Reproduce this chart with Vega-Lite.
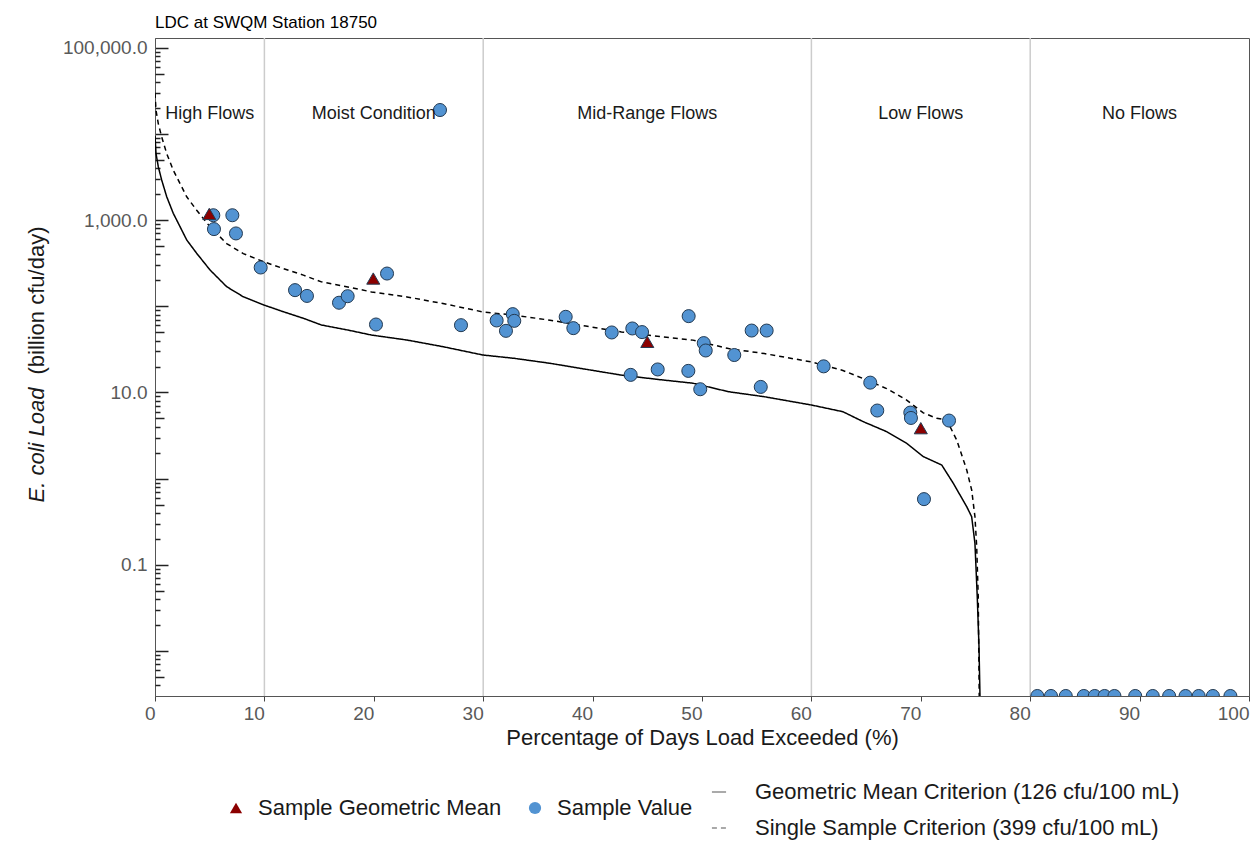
{
  "$schema": "https://vega.github.io/schema/vega-lite/v6.json",
  "autosize": {"type": "none"},
  "width": 1094,
  "height": 658,
  "padding": {"left": 155, "top": 38, "right": 8, "bottom": 160},
  "background": "white",
  "title": {"text": "LDC at SWQM Station 18750", "anchor": "start", "frame": "group", "font": "Liberation Sans", "fontSize": 17, "fontWeight": "normal", "color": "#000000", "baseline": "alphabetic", "offset": -8},
  "config": {
    "view": {"stroke": "#555555", "strokeWidth": 1},
    "font": "Liberation Sans",
    "legend": {"labelFont": "Liberation Sans", "labelFontSize": 22, "labelColor": "#1a1a1a", "padding": 0, "labelLimit": 600}
  },
  "datasets": {
    "zones": [{"x": 10}, {"x": 30}, {"x": 60}, {"x": 80}],
    "labels": [
      {"x": 5, "y": 17000, "text": "High Flows"},
      {"x": 20, "y": 17000, "text": "Moist Condition"},
      {"x": 45, "y": 17000, "text": "Mid-Range Flows"},
      {"x": 70, "y": 17000, "text": "Low Flows"},
      {"x": 90, "y": 17000, "text": "No Flows"}
    ],
    "lines": [
      {"series": "Geometric Mean Criterion (126 cfu/100 mL)", "x": 0, "y": 9500},
      {"series": "Geometric Mean Criterion (126 cfu/100 mL)", "x": 0.09, "y": 5970},
      {"series": "Geometric Mean Criterion (126 cfu/100 mL)", "x": 0.3, "y": 4170},
      {"series": "Geometric Mean Criterion (126 cfu/100 mL)", "x": 0.61, "y": 2924},
      {"series": "Geometric Mean Criterion (126 cfu/100 mL)", "x": 1.07, "y": 1871},
      {"series": "Geometric Mean Criterion (126 cfu/100 mL)", "x": 1.67, "y": 1200},
      {"series": "Geometric Mean Criterion (126 cfu/100 mL)", "x": 2.29, "y": 839},
      {"series": "Geometric Mean Criterion (126 cfu/100 mL)", "x": 2.9, "y": 589},
      {"series": "Geometric Mean Criterion (126 cfu/100 mL)", "x": 3.81, "y": 412},
      {"series": "Geometric Mean Criterion (126 cfu/100 mL)", "x": 5.03, "y": 264},
      {"series": "Geometric Mean Criterion (126 cfu/100 mL)", "x": 6.55, "y": 169},
      {"series": "Geometric Mean Criterion (126 cfu/100 mL)", "x": 8.07, "y": 129},
      {"series": "Geometric Mean Criterion (126 cfu/100 mL)", "x": 9.96, "y": 103.5},
      {"series": "Geometric Mean Criterion (126 cfu/100 mL)", "x": 11.73, "y": 86.5},
      {"series": "Geometric Mean Criterion (126 cfu/100 mL)", "x": 13.56, "y": 72.6},
      {"series": "Geometric Mean Criterion (126 cfu/100 mL)", "x": 15.21, "y": 60.7},
      {"series": "Geometric Mean Criterion (126 cfu/100 mL)", "x": 17.8, "y": 52.5},
      {"series": "Geometric Mean Criterion (126 cfu/100 mL)", "x": 19.78, "y": 46.4},
      {"series": "Geometric Mean Criterion (126 cfu/100 mL)", "x": 23.03, "y": 40.6},
      {"series": "Geometric Mean Criterion (126 cfu/100 mL)", "x": 26.32, "y": 34.0},
      {"series": "Geometric Mean Criterion (126 cfu/100 mL)", "x": 29.97, "y": 27.2},
      {"series": "Geometric Mean Criterion (126 cfu/100 mL)", "x": 32.84, "y": 24.9},
      {"series": "Geometric Mean Criterion (126 cfu/100 mL)", "x": 36.11, "y": 21.8},
      {"series": "Geometric Mean Criterion (126 cfu/100 mL)", "x": 39.37, "y": 18.6},
      {"series": "Geometric Mean Criterion (126 cfu/100 mL)", "x": 42.63, "y": 15.9},
      {"series": "Geometric Mean Criterion (126 cfu/100 mL)", "x": 45.9, "y": 14.2},
      {"series": "Geometric Mean Criterion (126 cfu/100 mL)", "x": 49.17, "y": 12.8},
      {"series": "Geometric Mean Criterion (126 cfu/100 mL)", "x": 52.43, "y": 10.2},
      {"series": "Geometric Mean Criterion (126 cfu/100 mL)", "x": 55.69, "y": 8.93},
      {"series": "Geometric Mean Criterion (126 cfu/100 mL)", "x": 60.0, "y": 7.15},
      {"series": "Geometric Mean Criterion (126 cfu/100 mL)", "x": 62.88, "y": 5.98},
      {"series": "Geometric Mean Criterion (126 cfu/100 mL)", "x": 64.74, "y": 4.58},
      {"series": "Geometric Mean Criterion (126 cfu/100 mL)", "x": 66.88, "y": 3.51},
      {"series": "Geometric Mean Criterion (126 cfu/100 mL)", "x": 68.71, "y": 2.57},
      {"series": "Geometric Mean Criterion (126 cfu/100 mL)", "x": 70.23, "y": 1.8},
      {"series": "Geometric Mean Criterion (126 cfu/100 mL)", "x": 71.91, "y": 1.44},
      {"series": "Geometric Mean Criterion (126 cfu/100 mL)", "x": 72.97, "y": 0.883},
      {"series": "Geometric Mean Criterion (126 cfu/100 mL)", "x": 74.2, "y": 0.472},
      {"series": "Geometric Mean Criterion (126 cfu/100 mL)", "x": 74.65, "y": 0.361},
      {"series": "Geometric Mean Criterion (126 cfu/100 mL)", "x": 74.95, "y": 0.177},
      {"series": "Geometric Mean Criterion (126 cfu/100 mL)", "x": 75.16, "y": 0.0426},
      {"series": "Geometric Mean Criterion (126 cfu/100 mL)", "x": 75.32, "y": 0.0112},
      {"series": "Geometric Mean Criterion (126 cfu/100 mL)", "x": 75.41, "y": 0.003},
      {"series": "Geometric Mean Criterion (126 cfu/100 mL)", "x": 75.45, "y": 0.0005},
      {"series": "Single Sample Criterion (399 cfu/100 mL)", "x": 0, "y": 30000},
      {"series": "Single Sample Criterion (399 cfu/100 mL)", "x": 0.09, "y": 18910},
      {"series": "Single Sample Criterion (399 cfu/100 mL)", "x": 0.3, "y": 13210},
      {"series": "Single Sample Criterion (399 cfu/100 mL)", "x": 0.61, "y": 9260},
      {"series": "Single Sample Criterion (399 cfu/100 mL)", "x": 1.07, "y": 5925},
      {"series": "Single Sample Criterion (399 cfu/100 mL)", "x": 1.67, "y": 3800},
      {"series": "Single Sample Criterion (399 cfu/100 mL)", "x": 2.29, "y": 2657},
      {"series": "Single Sample Criterion (399 cfu/100 mL)", "x": 2.9, "y": 1865},
      {"series": "Single Sample Criterion (399 cfu/100 mL)", "x": 3.81, "y": 1305},
      {"series": "Single Sample Criterion (399 cfu/100 mL)", "x": 5.03, "y": 836},
      {"series": "Single Sample Criterion (399 cfu/100 mL)", "x": 6.55, "y": 535},
      {"series": "Single Sample Criterion (399 cfu/100 mL)", "x": 8.07, "y": 408.5},
      {"series": "Single Sample Criterion (399 cfu/100 mL)", "x": 9.96, "y": 328},
      {"series": "Single Sample Criterion (399 cfu/100 mL)", "x": 11.73, "y": 274},
      {"series": "Single Sample Criterion (399 cfu/100 mL)", "x": 13.56, "y": 230},
      {"series": "Single Sample Criterion (399 cfu/100 mL)", "x": 15.21, "y": 192},
      {"series": "Single Sample Criterion (399 cfu/100 mL)", "x": 17.8, "y": 166},
      {"series": "Single Sample Criterion (399 cfu/100 mL)", "x": 19.78, "y": 147},
      {"series": "Single Sample Criterion (399 cfu/100 mL)", "x": 23.03, "y": 128.6},
      {"series": "Single Sample Criterion (399 cfu/100 mL)", "x": 26.32, "y": 107.7},
      {"series": "Single Sample Criterion (399 cfu/100 mL)", "x": 29.97, "y": 86.1},
      {"series": "Single Sample Criterion (399 cfu/100 mL)", "x": 32.84, "y": 78.9},
      {"series": "Single Sample Criterion (399 cfu/100 mL)", "x": 36.11, "y": 69.0},
      {"series": "Single Sample Criterion (399 cfu/100 mL)", "x": 39.37, "y": 58.9},
      {"series": "Single Sample Criterion (399 cfu/100 mL)", "x": 42.63, "y": 50.4},
      {"series": "Single Sample Criterion (399 cfu/100 mL)", "x": 45.9, "y": 45.0},
      {"series": "Single Sample Criterion (399 cfu/100 mL)", "x": 49.17, "y": 40.5},
      {"series": "Single Sample Criterion (399 cfu/100 mL)", "x": 52.43, "y": 32.3},
      {"series": "Single Sample Criterion (399 cfu/100 mL)", "x": 55.69, "y": 28.3},
      {"series": "Single Sample Criterion (399 cfu/100 mL)", "x": 60.0, "y": 22.6},
      {"series": "Single Sample Criterion (399 cfu/100 mL)", "x": 62.88, "y": 18.0},
      {"series": "Single Sample Criterion (399 cfu/100 mL)", "x": 64.74, "y": 14.5},
      {"series": "Single Sample Criterion (399 cfu/100 mL)", "x": 66.88, "y": 11.1},
      {"series": "Single Sample Criterion (399 cfu/100 mL)", "x": 68.71, "y": 8.14},
      {"series": "Single Sample Criterion (399 cfu/100 mL)", "x": 70.23, "y": 5.8},
      {"series": "Single Sample Criterion (399 cfu/100 mL)", "x": 71.45, "y": 5.01},
      {"series": "Single Sample Criterion (399 cfu/100 mL)", "x": 72.37, "y": 4.79},
      {"series": "Single Sample Criterion (399 cfu/100 mL)", "x": 73.28, "y": 2.81},
      {"series": "Single Sample Criterion (399 cfu/100 mL)", "x": 74.2, "y": 1.26},
      {"series": "Single Sample Criterion (399 cfu/100 mL)", "x": 74.65, "y": 0.738},
      {"series": "Single Sample Criterion (399 cfu/100 mL)", "x": 74.95, "y": 0.361},
      {"series": "Single Sample Criterion (399 cfu/100 mL)", "x": 75.11, "y": 0.162},
      {"series": "Single Sample Criterion (399 cfu/100 mL)", "x": 75.25, "y": 0.0426},
      {"series": "Single Sample Criterion (399 cfu/100 mL)", "x": 75.34, "y": 0.003},
      {"series": "Single Sample Criterion (399 cfu/100 mL)", "x": 75.38, "y": 0.0005}
    ],
    "points": [
      {"type": "Sample Value", "x": 5.33, "y": 1140},
      {"type": "Sample Value", "x": 7.07, "y": 1140},
      {"type": "Sample Value", "x": 5.39, "y": 787},
      {"type": "Sample Value", "x": 7.4, "y": 701},
      {"type": "Sample Value", "x": 9.66, "y": 282},
      {"type": "Sample Value", "x": 12.8, "y": 154},
      {"type": "Sample Value", "x": 13.89, "y": 132},
      {"type": "Sample Value", "x": 16.82, "y": 110},
      {"type": "Sample Value", "x": 17.61, "y": 131},
      {"type": "Sample Value", "x": 21.21, "y": 240},
      {"type": "Sample Value", "x": 20.2, "y": 61.5},
      {"type": "Sample Value", "x": 27.97, "y": 60.4},
      {"type": "Sample Value", "x": 26.05, "y": 18970},
      {"type": "Sample Value", "x": 31.23, "y": 68.5},
      {"type": "Sample Value", "x": 32.7, "y": 81.1},
      {"type": "Sample Value", "x": 32.84, "y": 67.8},
      {"type": "Sample Value", "x": 32.08, "y": 51.9},
      {"type": "Sample Value", "x": 37.54, "y": 75.5},
      {"type": "Sample Value", "x": 38.24, "y": 55.8},
      {"type": "Sample Value", "x": 41.75, "y": 49.7},
      {"type": "Sample Value", "x": 43.63, "y": 55.3},
      {"type": "Sample Value", "x": 44.52, "y": 50.2},
      {"type": "Sample Value", "x": 48.78, "y": 76.9},
      {"type": "Sample Value", "x": 50.16, "y": 37.4},
      {"type": "Sample Value", "x": 50.34, "y": 30.7},
      {"type": "Sample Value", "x": 52.95, "y": 27.2},
      {"type": "Sample Value", "x": 54.54, "y": 52.3},
      {"type": "Sample Value", "x": 55.91, "y": 52.3},
      {"type": "Sample Value", "x": 43.48, "y": 16.0},
      {"type": "Sample Value", "x": 45.95, "y": 18.5},
      {"type": "Sample Value", "x": 48.75, "y": 17.8},
      {"type": "Sample Value", "x": 49.84, "y": 10.9},
      {"type": "Sample Value", "x": 55.37, "y": 11.6},
      {"type": "Sample Value", "x": 61.12, "y": 20.1},
      {"type": "Sample Value", "x": 65.38, "y": 13.0},
      {"type": "Sample Value", "x": 66.02, "y": 6.17},
      {"type": "Sample Value", "x": 69.04, "y": 5.84},
      {"type": "Sample Value", "x": 69.1, "y": 5.06},
      {"type": "Sample Value", "x": 72.58, "y": 4.72},
      {"type": "Sample Value", "x": 70.29, "y": 0.578},
      {"type": "Sample Value", "x": 80.65, "y": 0.003},
      {"type": "Sample Value", "x": 81.9, "y": 0.003},
      {"type": "Sample Value", "x": 83.25, "y": 0.003},
      {"type": "Sample Value", "x": 84.9, "y": 0.003},
      {"type": "Sample Value", "x": 85.9, "y": 0.003},
      {"type": "Sample Value", "x": 86.8, "y": 0.003},
      {"type": "Sample Value", "x": 87.7, "y": 0.003},
      {"type": "Sample Value", "x": 89.6, "y": 0.003},
      {"type": "Sample Value", "x": 91.2, "y": 0.003},
      {"type": "Sample Value", "x": 92.7, "y": 0.003},
      {"type": "Sample Value", "x": 94.2, "y": 0.003},
      {"type": "Sample Value", "x": 95.4, "y": 0.003},
      {"type": "Sample Value", "x": 96.7, "y": 0.003},
      {"type": "Sample Value", "x": 98.3, "y": 0.003},
      {"type": "Sample Geometric Mean", "x": 4.96, "y": 1180},
      {"type": "Sample Geometric Mean", "x": 19.95, "y": 210},
      {"type": "Sample Geometric Mean", "x": 45.0, "y": 38.7},
      {"type": "Sample Geometric Mean", "x": 70.0, "y": 3.85}
    ]
  },
  "resolve": {"axis": {"y": "independent"}},
  "layer": [
    {
      "data": {"name": "zones"},
      "mark": {"type": "rule", "color": "#cccccc", "strokeWidth": 1.5},
      "encoding": {
        "x": {
          "field": "x", "type": "quantitative",
          "scale": {"domain": [0, 100], "nice": false},
          "axis": {
            "values": [0, 10, 20, 30, 40, 50, 60, 70, 80, 90, 100],
            "title": "Percentage of Days Load Exceeded (%)",
            "titleFont": "Liberation Sans", "titleFontSize": 22, "titleFontWeight": "normal", "titleColor": "#1a1a1a", "titlePadding": 4,
            "labelFont": "Liberation Sans", "labelFontSize": 19, "labelColor": "#595959", "labelAlign": "right", "labelFlush": false, "labelPadding": 3,
            "tickSize": 5, "tickColor": "#444444", "tickWidth": 1, "domainColor": "#555555", "grid": false
          }
        }
      }
    },
    {
      "data": {"name": "lines"},
      "mark": {"type": "line", "color": "#000000", "strokeWidth": 1.5, "clip": true},
      "encoding": {
        "x": {"field": "x", "type": "quantitative", "scale": {"domain": [0, 100], "nice": false}},
        "y": {
          "field": "y", "type": "quantitative",
          "scale": {"type": "log", "domain": [0.003, 130000], "nice": false},
          "axis": {
            "orient": "left",
            "values": [0.01, 0.1, 1, 10, 100, 1000, 10000, 100000],
            "format": ",.1f",
            "labelExpr": "(datum.value == 0.1 || datum.value == 10 || datum.value == 1000 || datum.value == 100000) ? datum.label : ''",
            "labelFont": "Liberation Sans", "labelFontSize": 19, "labelColor": "#595959", "labelPadding": 21,
            "tickSize": -13, "tickColor": "#222222", "tickWidth": 1.5,
            "domainColor": "#555555", "grid": false,
            "title": "E. coli Load", "titleFont": "Liberation Sans", "titleFontSize": 22, "titleFontStyle": "italic", "titleFontWeight": "normal", "titleColor": "#1a1a1a",
            "titleAngle": -90, "titleX": -119, "titleY": 464, "titleAlign": "left", "titleBaseline": "middle"
          }
        },
        "strokeDash": {
          "field": "series", "type": "nominal",
          "scale": {"domain": ["Geometric Mean Criterion (126 cfu/100 mL)", "Single Sample Criterion (399 cfu/100 mL)"], "range": [[1, 0], [5, 4]]},
          "legend": {
            "title": null, "orient": "none", "direction": "vertical", "legendX": 553, "legendY": 743,
            "symbolType": "stroke", "symbolSize": 200, "symbolStrokeColor": "#555555", "symbolStrokeWidth": 1.2,
            "labelOffset": 25, "rowPadding": 14
          }
        }
      }
    },
    {
      "data": {"name": "points"},
      "mark": {"type": "point", "filled": true, "opacity": 1, "size": 170, "stroke": "#233a52", "strokeWidth": 1, "clip": true},
      "encoding": {
        "x": {"field": "x", "type": "quantitative", "scale": {"domain": [0, 100], "nice": false}},
        "y": {
          "field": "y", "type": "quantitative",
          "scale": {"type": "log", "domain": [0.003, 130000], "nice": false},
          "axis": {
            "orient": "left",
            "values": [0.005, 0.05, 0.5, 5, 50, 500, 5000, 50000],
            "labels": false, "domain": false, "grid": false,
            "tickSize": -9, "tickColor": "#222222", "tickWidth": 1.5,
            "title": "(billion cfu/day)", "titleFont": "Liberation Sans", "titleFontSize": 22, "titleFontWeight": "normal", "titleColor": "#1a1a1a",
            "titleAngle": -90, "titleX": -119, "titleY": 336, "titleAlign": "left", "titleBaseline": "middle"
          }
        },
        "fill": {
          "field": "type", "type": "nominal",
          "scale": {"domain": ["Sample Geometric Mean", "Sample Value"], "range": ["#8B0000", "#5293D2"]},
          "legend": {
            "title": null, "orient": "none", "direction": "horizontal", "legendX": 70, "legendY": 759,
            "symbolSize": 150, "symbolStrokeColor": "#233a52", "symbolStrokeWidth": 1,
            "labelOffset": 11, "columnPadding": 22
          }
        },
        "shape": {
          "field": "type", "type": "nominal",
          "scale": {"domain": ["Sample Geometric Mean", "Sample Value"], "range": ["triangle-up", "circle"]},
          "legend": {
            "title": null, "orient": "none", "direction": "horizontal", "legendX": 70, "legendY": 759,
            "symbolSize": 150, "symbolStrokeColor": "#233a52", "symbolStrokeWidth": 1,
            "labelOffset": 11, "columnPadding": 22
          }
        }
      }
    },
    {
      "data": {"name": "labels"},
      "mark": {"type": "text", "font": "Liberation Sans", "fontSize": 18, "color": "#1a1a1a", "align": "center", "baseline": "middle"},
      "encoding": {
        "x": {"field": "x", "type": "quantitative", "scale": {"domain": [0, 100], "nice": false}},
        "y": {
          "field": "y", "type": "quantitative",
          "scale": {"type": "log", "domain": [0.003, 130000], "nice": false},
          "axis": {
            "orient": "left",
            "values": [0.004, 0.006, 0.007, 0.008, 0.009, 0.02, 0.03, 0.04, 0.06, 0.07, 0.08, 0.09, 0.2, 0.3, 0.4, 0.6, 0.7, 0.8, 0.9, 2, 3, 4, 6, 7, 8, 9, 20, 30, 40, 60, 70, 80, 90, 200, 300, 400, 600, 700, 800, 900, 2000, 3000, 4000, 6000, 7000, 8000, 9000, 20000, 30000, 40000, 60000, 70000, 80000, 90000],
            "labels": false, "domain": false, "grid": false,
            "tickSize": -5, "tickColor": "#222222", "tickWidth": 1.5,
            "title": null
          }
        },
        "text": {"field": "text", "type": "nominal"}
      }
    }
  ]
}
